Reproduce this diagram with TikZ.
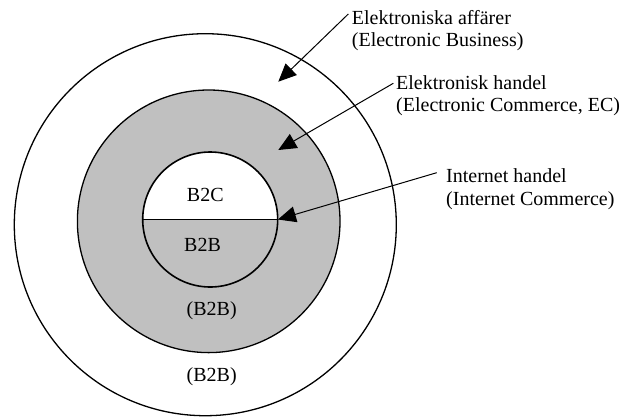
\documentclass[tikz,border=0pt]{standalone}
\usepackage{fontspec}
\setmainfont{Liberation Serif}
\usetikzlibrary{arrows.meta}
\definecolor{ringgray}{RGB}{192,192,192}
\tikzset{
  ring/.style={circle, draw, line width=1.3pt, inner sep=0pt, outer sep=0pt},
  label text/.style={anchor=base west, align=left, inner sep=0pt,
    font=\fontsize{20}{22.4}\selectfont},
  area text/.style={anchor=base, inner sep=0pt, font=\fontsize{20}{22.4}\selectfont},
  pointer/.style={line width=1pt, -{Triangle[length=18pt,width=16pt]}},
}
\begin{document}
\begin{tikzpicture}[x=1pt, y=-1pt]
  \useasboundingbox (0,0) rectangle (623,416);

  % three nested areas
  \node[ring, fill=white, minimum size=382pt] (outer) at (205.3,224.7) {};
  \node[ring, fill=ringgray, minimum size=262.6pt] (middle) at (208.7,221.3) {};
  \node[circle, fill=white, inner sep=0pt, minimum size=135pt] (inner) at (210.2,219.5) {};
  % lower half of the innermost circle
  \begin{scope}
    \clip (140,219.5) rectangle (280,290);
    \fill[ringgray] (inner.center) circle[radius=67.5];
  \end{scope}
  \draw[line width=1.5pt] (inner.west) -- (inner.east);
  \node[circle, draw, line width=1.6pt, inner sep=0pt, minimum size=135pt] at (inner.center) {};

  % area captions
  \node[area text] (b2c) at (205.3,201.7) {B2C};
  \node[area text] (b2b) at (202.5,251.7) {B2B};
  \node[area text] (b2bmid) at (211.7,315) {(B2B)};
  \node[area text] (b2bout) at (211.7,381.7) {(B2B)};

  % explanatory labels (anchored at the baseline of their last line)
  \node[label text] (ebus) at (351.7,46.7) {Elektroniska affärer\\(Electronic Business)};
  \node[label text] (ecom) at (396,111.7) {Elektronisk handel\\(Electronic Commerce, EC)};
  \node[label text] (icom) at (446,205) {Internet handel\\(Internet Commerce)};

  % arrow targets
  \coordinate (tbus) at (278.3,81.7);
  \coordinate (tcom) at (278.3,150);

  \draw[pointer] ([shift={(-3.4,-32.7)}]ebus.base west) -- (tbus);
  \draw[pointer] ([shift={(-2.7,-28.4)}]ecom.base west) -- (tcom);
  \draw[pointer] ([shift={(-9.3,-32.3)}]icom.base west) -- (inner.east);
\end{tikzpicture}
\end{document}
